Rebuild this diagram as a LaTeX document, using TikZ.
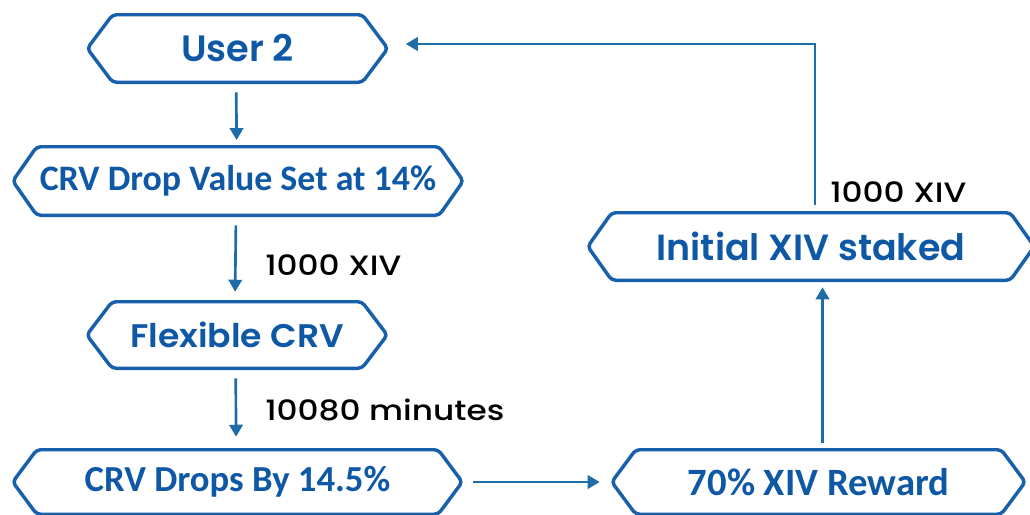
\documentclass[tikz,border=0pt]{standalone}
\usepackage{fontspec}
\setmainfont{Poppins}
\newfontfamily\calib{Carlito}
\newfontfamily\popsemi{Poppins SemiBold}
\newfontfamily\popmed{Poppins Medium}
\usetikzlibrary{arrows.meta}
\definecolor{boxblue}{RGB}{24,96,172}
\definecolor{txtblue}{RGB}{14,88,166}
\definecolor{arrblue}{RGB}{30,108,168}
\tikzset{
  hexnode/.style={shape=rectangle, draw=none, inner sep=0pt, text=txtblue},
  hexline/.style={draw=boxblue, line width=2.6pt, rounded corners=3pt, line join=round},
  arr/.style={draw=arrblue, line width=2pt, -{Triangle[length=9pt,width=10pt]}},
  lbl/.style={anchor=west, inner sep=0pt, text=black, font=\popmed\fontsize{21}{24}\selectfont}
}
\newcommand\hexdraw[2]{%
  \draw[hexline] (#1.west) -- ([xshift=#2]#1.north west) -- ([xshift=-#2]#1.north east)
    -- (#1.east) -- ([xshift=-#2]#1.south east) -- ([xshift=#2]#1.south west) -- cycle;}
\newcommand\wide[1]{\scalebox{1.17}[1]{#1}}
\begin{document}
\begin{tikzpicture}[x=0.75pt,y=-0.75pt]
\useasboundingbox (0,0) rectangle (1030,514);
\clip (0,0) rectangle (1030,514);
% nodes
\node[hexnode, minimum width=225pt, minimum height=50.25pt, font=\popsemi\fontsize{27.5}{30}\selectfont] (u2) at (237.5,48.5) {User 2};
\node[hexnode, minimum width=337.5pt, minimum height=51pt, font=\calib\fontsize{26.9}{29}\selectfont\bfseries] (cv) at (238,181) {CRV Drop Value Set at 14\%};
\node[hexnode, minimum width=225pt, minimum height=49.5pt, font=\popsemi\fontsize{24.5}{27}\selectfont] (fx) at (237,335) {\scalebox{1.06}[1]{Flexible CRV}};
\node[hexnode, minimum width=336.75pt, minimum height=48pt, font=\calib\fontsize{27.5}{30}\selectfont\bfseries] (cd) at (237.5,482) {CRV Drops By 14.5\%};
\node[hexnode, minimum width=309.75pt, minimum height=48pt, font=\calib\fontsize{29}{32}\selectfont\bfseries] (rw) at (818.5,482) {70\% XIV Reward};
\node[hexnode, minimum width=334.5pt, minimum height=50.25pt, font=\popsemi\fontsize{27.3}{30}\selectfont] (is) at (811,246.5) {Initial XIV staked};
\hexdraw{u2}{19pt}
\hexdraw{cv}{18pt}
\hexdraw{fx}{19pt}
\hexdraw{cd}{18pt}
\hexdraw{rw}{18pt}
\hexdraw{is}{18pt}
% labels
\node[lbl] (l1) at (265,265) {\wide{1000 XIV}};
\node[lbl] (l2) at (265,410) {\wide{10080 minutes}};
\node[lbl] (l3) at (830,192) {\wide{1000 XIV}};
% connectors
\coordinate (c1) at (815,205);
\coordinate (c2) at (815,44);
\draw[arr, shorten <=7.5pt, shorten >=5pt] ([xshift=-1pt]u2.south) -- ([xshift=-1pt]cv.north);
\draw[arr, shorten <=7.5pt, shorten >=7.5pt] ([xshift=-1.5pt]cv.south) -- ([xshift=-1.5pt]fx.north);
\draw[arr, shorten <=7.5pt, shorten >=9.75pt] ([xshift=-1pt]fx.south) -- ([xshift=-1pt]cd.north);
\draw[arr, shorten <=8.25pt, shorten >=9pt] (cd.east) -- (rw.west);
\draw[arr, shorten <=5pt, shorten >=5.25pt] ([xshift=3pt]rw.north) -- ([xshift=3pt]is.south -| rw.north);
\draw[arr, shorten >=13.5pt] (c1) -- (c2) -- (c2 -| u2.east);
\end{tikzpicture}
\end{document}
